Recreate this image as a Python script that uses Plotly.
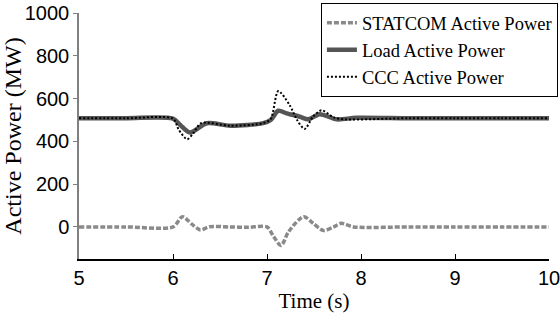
import plotly.graph_objects as go

# ---- data ----
time_statcom = [5.0, 5.5, 6.0, 6.1, 6.2, 6.29, 6.39, 6.6, 6.8, 7.0, 7.07, 7.15, 7.23,
                7.39, 7.49, 7.6, 7.71, 7.79, 7.92, 8.5, 9.0, 9.5, 10.0]
p_statcom = [0, 0, 0, 48, 13, -14, 1, 0, -2, 0, -45, -87, -22,
             48, 17, -17, 0, 17, 0, 0, 0, 0, 0]

time_load = [5.0, 5.5, 6.0, 6.08, 6.18, 6.36, 6.61, 6.96, 7.04, 7.12, 7.21, 7.35,
             7.44, 7.56, 7.74, 7.95, 8.5, 9.0, 9.5, 10.0]
p_load = [508, 508, 506, 475, 441, 485, 473, 485, 500, 543, 531, 515,
          503, 527, 503, 510, 508, 508, 508, 508]

time_ccc = [5.0, 5.5, 6.0, 6.06, 6.15, 6.22, 6.30, 6.61, 6.96, 7.04, 7.12, 7.24,
            7.32, 7.40, 7.49, 7.58, 7.71, 7.83, 8.5, 9.0, 9.5, 10.0]
p_ccc = [508, 508, 506, 455, 410, 440, 485, 473, 485, 505, 635, 570,
         500, 458, 515, 545, 512, 503, 508, 508, 508, 508]

names = ["STATCOM Active Power", "Load Active Power", "CCC Active Power"]
x_ticks = [5, 6, 7, 8, 9, 10]
y_ticks = [0, 200, 400, 600, 800, 1000]

fig = go.Figure()
fig.add_trace(go.Scatter(x=time_statcom, y=p_statcom, name=names[0], mode="lines",
                         line=dict(color="#8a8a8a", width=3.5, dash="5px,2px",
                                   shape="spline", smoothing=0.8)))
fig.add_trace(go.Scatter(x=time_load, y=p_load, name=names[1], mode="lines",
                         line=dict(color="#555555", width=4.5,
                                   shape="spline", smoothing=0.8)))
fig.add_trace(go.Scatter(x=time_ccc, y=p_ccc, name=names[2], mode="lines",
                         line=dict(color="#000000", width=2, dash="2px,2px",
                                   shape="spline", smoothing=0.8)))

fig.update_layout(
    width=560, height=320,
    margin=dict(l=79, r=11, t=13, b=61, autoexpand=False),
    paper_bgcolor="white", plot_bgcolor="white",
    showlegend=True,
    legend=dict(x=1.019, y=1.04, xanchor="right", yanchor="top",
                bgcolor="white", bordercolor="black", borderwidth=1,
                font=dict(family="Liberation Serif", size=18.5, color="black"),
                tracegroupgap=0, itemwidth=30),
    xaxis=dict(range=[5, 10], tickvals=x_ticks, ticks="inside", ticklen=5,
               tickcolor="black", showline=True, linecolor="black", linewidth=1.5,
               showgrid=False, zeroline=False, ticklabeloverflow="allow",
               tickfont=dict(family="Liberation Sans Narrow, Liberation Sans", size=20, color="black"),
               title=dict(text="Time (s)", standoff=6,
                          font=dict(family="Liberation Serif", size=21, color="black"))),
    yaxis=dict(range=[-150, 1000], tickvals=y_ticks, ticks="outside", ticklen=4,
               tickcolor="#808080", showline=True, linecolor="#808080", linewidth=1.5,
               showgrid=False, zeroline=False, ticklabeloverflow="allow",
               tickfont=dict(family="Liberation Sans Narrow, Liberation Sans", size=20, color="black"),
               title=dict(text="Active Power (MW)", standoff=4,
                          font=dict(family="Liberation Serif", size=24, color="black"))),
)

fig.write_html("out.html")
